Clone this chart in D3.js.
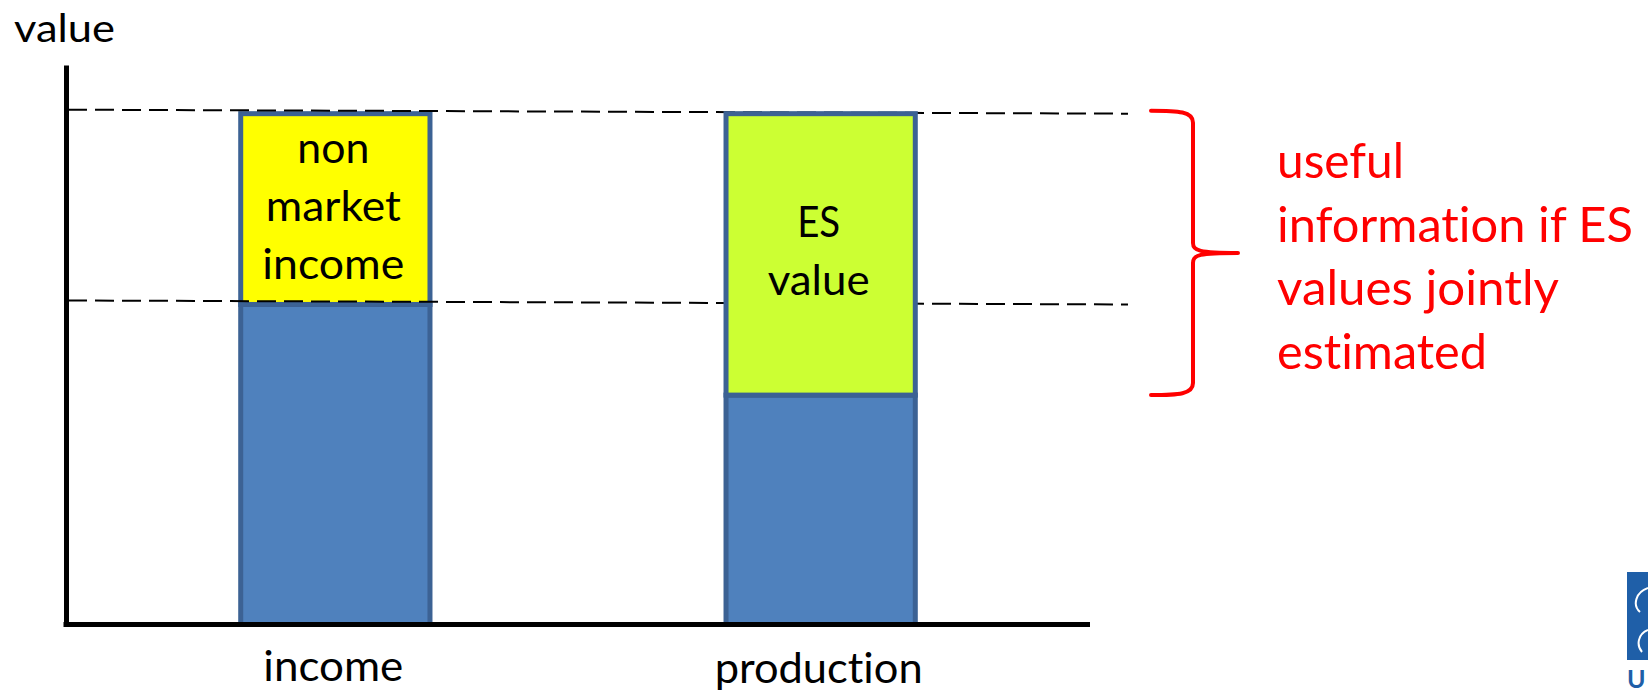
<!DOCTYPE html>
<html>
<head>
<meta charset="UTF-8" />
<title>income vs production value</title>
<script src="https://cdnjs.cloudflare.com/ajax/libs/d3/7.8.5/d3.min.js"></script>
<style>
  body { margin: 0; background: #fff; }
  svg { display: block; font-family: Lato, "Open Sans", sans-serif; font-variant-ligatures: none; }
</style>
</head>
<body>
<script>
// chart data
var categories = ["income", "production"];
var marketValues = [57.2, 41.0];          // blue part of each bar
var extraValues = [34.1, 50.3];           // non market income / ES value
var extraLabels = [["non", "market", "income"], ["ES", "value"]];
var extraColors = ["#FFFF00", "#CCFF33"];
var noteLines = ["useful", "information if ES", "values jointly", "estimated"];
var yDomain = [0, 100];

var width = 1648, height = 694;

var svg = d3.select("body").append("svg")
  .attr("width", width)
  .attr("height", height);

var x = d3.scaleBand()
  .domain(categories)
  .range([66, 1090])
  .paddingInner(0.61)
  .paddingOuter(0.36);

var y = d3.scaleLinear()
  .domain(yDomain)
  .range([624.5, 65]);

// fit a text to the width it has in the slide
function fit(sel, w) {
  sel.attr("textLength", w).attr("lengthAdjust", "spacingAndGlyphs");
}

var bars = categories.map(function (c, i) {
  return { cat: c, market: marketValues[i], extra: extraValues[i],
           total: marketValues[i] + extraValues[i], labels: extraLabels[i], color: extraColors[i] };
});

function drawBar(g, d, widths) {
  var x0 = x(d.cat), bw = x.bandwidth();
  g.append("rect")
    .attr("x", x0).attr("width", bw)
    .attr("y", y(d.market)).attr("height", y(0) - y(d.market))
    .attr("fill", "#4F81BD").attr("stroke", "#3C6294").attr("stroke-width", 5);
  g.append("rect")
    .attr("x", x0).attr("width", bw)
    .attr("y", y(d.total)).attr("height", y(d.market) - y(d.total))
    .attr("fill", d.color).attr("stroke", "#3C6294").attr("stroke-width", 5);
  var cy = (y(d.market) + y(d.total)) / 2;
  var n = d.labels.length;
  d.labels.forEach(function (t, j) {
    g.append("text")
      .attr("x", x0 + bw / 2 - 2)
      .attr("y", cy + (j - (n - 1) / 2) * 58 + 12)
      .attr("text-anchor", "middle")
      .attr("font-size", 42)
      .attr("fill", "#000")
      .text(t)
      .call(fit, widths[j]);
  });
}

var labelWidths = [[72, 135, 142], [43, 102]];

// income bar below the dashed guides, production bar above them
var gIncome = svg.append("g");
drawBar(gIncome, bars[0], labelWidths[0]);

var guides = [bars[0].total, bars[0].market];
svg.append("g").selectAll("line")
  .data(guides)
  .enter().append("line")
  .attr("x1", 68).attr("x2", 1128)
  .attr("y1", function (v) { return y(v) - 4; })
  .attr("y2", function (v) { return y(v); })
  .attr("stroke", "#000")
  .attr("stroke-width", 2)
  .attr("stroke-dasharray", "19,8");

var gProd = svg.append("g");
drawBar(gProd, bars[1], labelWidths[1]);

// axes
var yAxis = svg.append("g")
  .attr("transform", "translate(66,0)")
  .call(d3.axisLeft(y).ticks(0).tickSizeOuter(0));
yAxis.select(".domain").attr("stroke", "#000").attr("stroke-width", 5);

var xAxis = svg.append("g")
  .attr("transform", "translate(0," + y(0) + ")")
  .call(d3.axisBottom(x).tickSize(0).tickSizeOuter(0).tickPadding(0));
xAxis.select(".domain").attr("stroke", "#000").attr("stroke-width", 5)
  .attr("d", "M63.5,0H1090");
var xLabelWidths = { income: 140, production: 208 };
xAxis.selectAll(".tick text")
  .attr("dy", null)
  .attr("y", function (d) { return d === "income" ? 56 : 58; })
  .attr("x", -2)
  .attr("font-family", "Lato, 'Open Sans', sans-serif")
  .attr("font-size", 42)
  .attr("fill", "#000")
  .each(function (d) { d3.select(this).call(fit, xLabelWidths[d]); });

// axis title
svg.append("text")
  .attr("x", 14).attr("y", 42)
  .attr("font-size", 39)
  .text("value")
  .call(fit, 101);

// curly brace from the top of the bars down to the production market value
var braceTop = y(bars[0].total) - 3, braceBot = y(bars[1].market), braceMid = (braceTop + braceBot) / 2;
var bx0 = 1151, bx1 = 1193, bx2 = 1238;
var p = d3.path();
p.moveTo(bx0, braceTop);
p.bezierCurveTo(bx0 + 28, braceTop, bx1, braceTop + 1, bx1, braceTop + 12);
p.lineTo(bx1, braceMid - 10);
p.bezierCurveTo(bx1, braceMid - 2, bx1 + 6, braceMid, bx2, braceMid);
p.moveTo(bx2, braceMid);
p.bezierCurveTo(bx1 + 6, braceMid, bx1, braceMid + 2, bx1, braceMid + 10);
p.lineTo(bx1, braceBot - 12);
p.bezierCurveTo(bx1, braceBot - 1, bx0 + 28, braceBot, bx0, braceBot);
svg.append("path")
  .attr("d", p.toString())
  .attr("fill", "none")
  .attr("stroke", "#FF0000")
  .attr("stroke-width", 4)
  .attr("stroke-linecap", "round");

var noteWidths = [127, 356, 282, 210];
svg.append("g").selectAll("text")
  .data(noteLines)
  .enter().append("text")
  .attr("x", 1277)
  .attr("y", function (d, i) { return 178 + i * 63.7; })
  .attr("font-size", 49)
  .attr("fill", "#FF0000")
  .text(function (d) { return d; })
  .each(function (d, i) { d3.select(this).call(fit, noteWidths[i]); });

// corner of the university logo, cut by the slide edge
var logo = svg.append("g");
logo.append("rect")
  .attr("x", 1627).attr("y", 572).attr("width", 30).attr("height", 88)
  .attr("fill", "#1F5FA8");
logo.append("path")
  .attr("d", "M1648,588 C1636,592 1632,605 1640,612 M1648,630 C1638,634 1636,645 1642,652")
  .attr("fill", "none").attr("stroke", "#fff").attr("stroke-width", 2);
logo.append("text")
  .attr("x", 1627).attr("y", 688)
  .attr("font-size", 25).attr("font-weight", "bold")
  .attr("fill", "#1F5FA8")
  .text("U");
</script>
</body>
</html>
